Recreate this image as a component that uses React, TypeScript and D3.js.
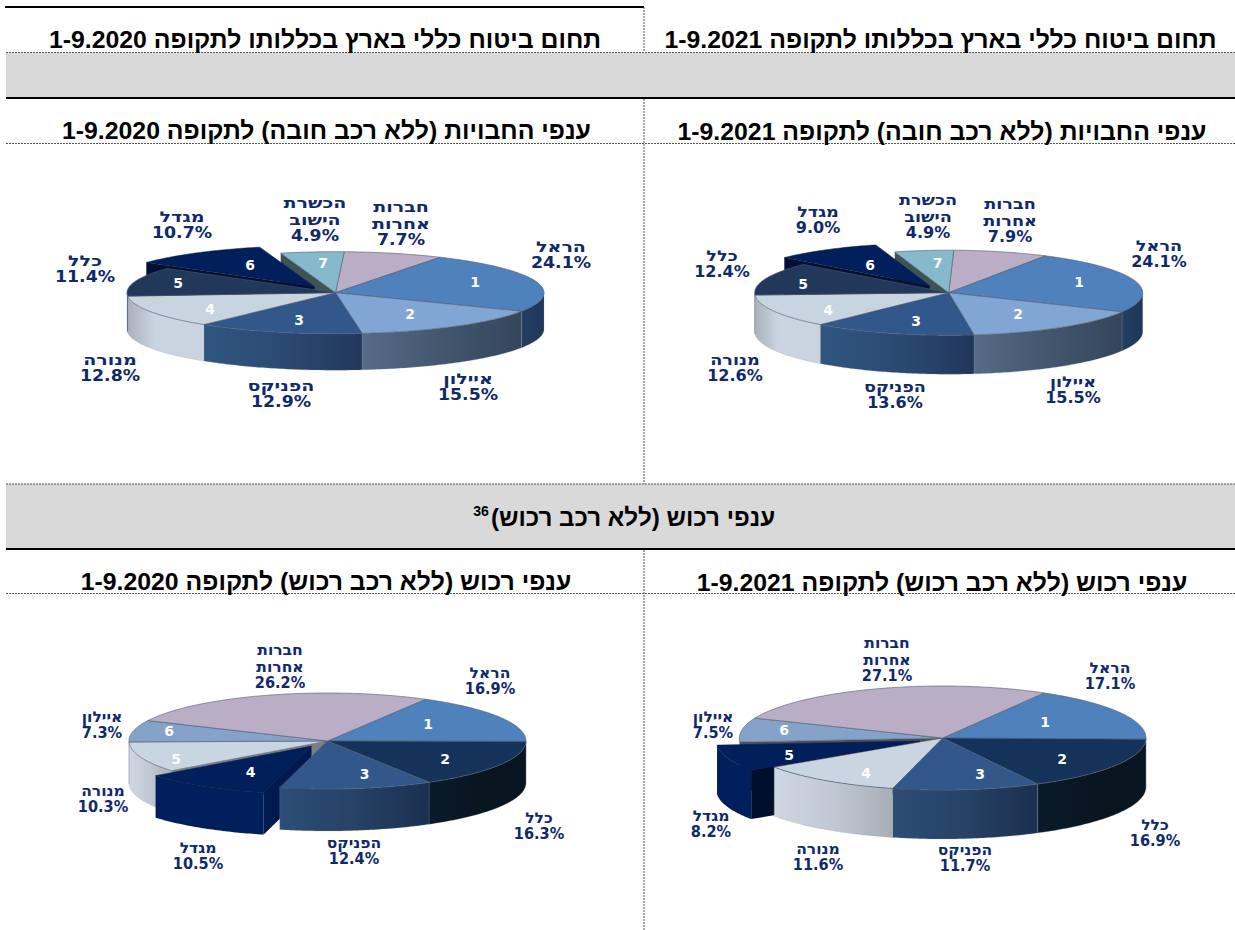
import React from "react";
import * as d3 from "d3";

// ---------- data ----------
const HAREL = "הראל", AYALON = "איילון", PHOENIX = "הפניקס", MENORA = "מנורה", CLAL = "כלל",
  MIGDAL = "מגדל", HACHSHARA = "הכשרת הישוב", OTHERS = "חברות אחרות";

const liabilityNames = [OTHERS, HAREL, AYALON, PHOENIX, MENORA, CLAL, MIGDAL, HACHSHARA];
const liability2020 = [7.7, 24.1, 15.5, 12.9, 12.8, 11.4, 10.7, 4.9];
const liability2021 = [7.9, 24.1, 15.5, 13.6, 12.6, 12.4, 9.0, 4.9];

const property2020Names = [HAREL, CLAL, PHOENIX, MIGDAL, MENORA, AYALON, OTHERS];
const property2020 = [16.9, 16.3, 12.4, 10.5, 10.3, 7.3, 26.2];
const property2021Names = [HAREL, CLAL, PHOENIX, MENORA, MIGDAL, AYALON, OTHERS];
const property2021 = [17.1, 16.9, 11.7, 11.6, 8.2, 7.5, 27.1];

// number printed on each slice ("" = none)
const liabilityNumbers = ["", "1", "2", "3", "4", "5", "6", "7"];
const propertyNumbers = ["1", "2", "3", "4", "5", "6", ""];

const headerTitles = ["תחום ביטוח כללי בארץ בכללותו לתקופה 1-9.2021", "תחום ביטוח כללי בארץ בכללותו לתקופה 1-9.2020"];
const liabilityTitles = ["ענפי החבויות (ללא רכב חובה) לתקופה 1-9.2021", "ענפי החבויות (ללא רכב חובה) לתקופה 1-9.2020"];
const propertyTitles = ["ענפי רכוש (ללא רכב רכוש) לתקופה 1-9.2021", "ענפי רכוש (ללא רכב רכוש) לתקופה 1-9.2020"];
const bandTitle = "ענפי רכוש (ללא רכב רכוש)";
const bandNote = "36";

// ---------- styles ----------
type Style = { top: string; wall: any[] };
const liabilityStyle: Record<string, Style> = {
  [OTHERS]: { top: "#b9aec5", wall: [[0, "#8a8096"]] },
  [HAREL]: { top: "#4f81bd", wall: [[0, "#243f63"], [1, "#1f3658"]] },
  [AYALON]: { top: "#82a6d4", wall: [[0, "#566b87"], [0.5, "#43566e"], [1, "#35465a"]] },
  [PHOENIX]: { top: "#32578a", wall: [[0, "#30567f"], [0.5, "#2b4a73"], [1, "#22375a"]] },
  [MENORA]: { top: "#c9d4e1", wall: [[0, "#a9b1bd"], [0.35, "#c9d4e0"], [1, "#c9d4e0"]] },
  [CLAL]: { top: "#22385b", wall: [[0, "#22385b"]] },
  [MIGDAL]: { top: "#001f5b", wall: [[0, "#001f5b"]] },
  [HACHSHARA]: { top: "#86b9cc", wall: [[0, "#3d5355"]] },
};
const propertyStyle: Record<string, Style> = {
  [OTHERS]: { top: "#b9aec5", wall: [[0, "#8a8096"]] },
  [HAREL]: { top: "#4f81bd", wall: [[0, "#243f63"]] },
  [CLAL]: { top: "#14325a", wall: [[0, "#0a1a2b"], [0.5, "#07161f"], [1, "#06151f"]] },
  [PHOENIX]: { top: "#32578a", wall: [[0, "#2c4d76"], [0.5, "#264265"], [1, "#1b3050"]] },
  [MENORA]: { top: "#cad5e2", wall: [[0, "#ced7e2"], [0.5, "#c0c8d3"], [1, "#a8aeb6"]] },
  [MIGDAL]: { top: "#001f5b", wall: [[0, "#001f5c"]] },
  [AYALON]: { top: "#85a3c9", wall: [[0, "#5f7591"]] },
};

const textNavy = "#10296b";

// ---------- layout ----------
type Chart = {
  names: string[]; values: number[]; numbers: string[]; style: Record<string, Style>;
  cx: number; cy: number; rx: number; ry: number; depth: number; start: number;
  exploded: string; off: [number, number]; radial: string; exposed: string;
  sx: number; hx: number; labels: [number, number][]; numPos: [number, number][];
};

const charts: Chart[] = [
  {
    names: liabilityNames, values: liability2021, numbers: liabilityNumbers, style: liabilityStyle,
    cx: 948.7, cy: 292.7, rx: 194, ry: 42.5, depth: 39, start: 1.5, exploded: MIGDAL, off: [-19, -7],
    radial: "#000f33", exposed: "#3d5355", sx: 1.07, hx: 1.1,
    labels: [[1010, 209], [1159, 251], [1073, 387], [895, 392], [735, 365], [722, 261], [818, 217], [928, 205]],
    numPos: [[0, 0], [1079, 282], [1018, 314], [916, 321], [828, 310], [803, 284], [870, 265], [937.5, 263]],
  },
  {
    names: liabilityNames, values: liability2020, numbers: liabilityNumbers, style: liabilityStyle,
    cx: 335.5, cy: 292.7, rx: 208.5, ry: 41, depth: 36.5, start: 2.4, exploded: MIGDAL, off: [-21, -6],
    radial: "#000f33", exposed: "#3d5355", sx: 1.155, hx: 1.1,
    labels: [[401, 212], [561, 252], [468, 384], [281, 391], [110, 365], [85, 266], [182, 222], [315, 208]],
    numPos: [[0, 0], [475, 282], [410, 314], [299, 320], [210, 309], [178, 283], [250, 265], [323, 263]],
  },
  {
    names: property2021Names, values: property2021, numbers: propertyNumbers, style: propertyStyle,
    cx: 942.7, cy: 738, rx: 203.3, ry: 52, depth: 49, start: 29.9, exploded: MIGDAL, off: [-23, 3],
    radial: "#000f2c", exposed: "#4a4f58", sx: 0.97, hx: 1.07,
    labels: [[1110, 673], [1155, 830], [965, 855], [818, 854], [711, 821], [713, 722], [887, 648]],
    numPos: [[1045, 722], [1062, 759], [980, 774], [866, 773], [789, 755], [784, 730], [0, 0]],
  },
  {
    names: property2020Names, values: property2020, numbers: propertyNumbers, style: propertyStyle,
    cx: 327.5, cy: 741, rx: 198.5, ry: 48, depth: 42, start: 29.6, exploded: MIGDAL, off: [-16, 5],
    radial: "#001a50", exposed: "#7a7f86", sx: 0.97, hx: 1.07,
    labels: [[490, 678], [539, 823], [354, 848], [198, 853], [103, 796], [102, 722], [280, 655]],
    numPos: [[428, 724], [445, 759], [364.5, 774], [250.6, 772], [176, 759], [169, 731], [0, 0]],
  },
];

const line = d3.line<[number, number]>().x((d) => d[0]).y((d) => d[1]);

function Pie({ chart, idx }: { chart: Chart; idx: number }) {
  const { cx, cy, rx, ry, depth, names, values, style, exploded, off } = chart;
  const s0 = (chart.start * Math.PI) / 180;
  const arcs = d3.pie<number>().sort(null).startAngle(s0).endAngle(s0 + 2 * Math.PI)(values);
  const pt = (a: number, dx = 0, dy = 0, z = 0, r = 1): [number, number] => [
    cx + dx + rx * r * Math.sin(a),
    cy + dy - ry * r * Math.cos(a) + z,
  ];
  const sweep = (a0: number, a1: number, dx = 0, dy = 0, z = 0) => {
    const n = Math.max(2, Math.ceil(Math.abs(a1 - a0) / 0.015));
    return d3.range(n + 1).map((i) => pt(a0 + ((a1 - a0) * i) / n, dx, dy, z));
  };
  const topPath = (a0: number, a1: number, dx = 0, dy = 0) =>
    line([pt(0, dx, dy, 0, 0), ...sweep(a0, a1, dx, dy)]) + "Z";
  const wallPath = (a0: number, a1: number, dx = 0, dy = 0) => {
    const lo = Math.max(a0, Math.PI / 2), hi = Math.min(a1, (3 * Math.PI) / 2);
    if (hi <= lo) return "";
    return line([...sweep(lo, hi, dx, dy), ...sweep(hi, lo, dx, dy, depth)]) + "Z";
  };
  const radialPath = (a: number, dx = 0, dy = 0) =>
    line([pt(0, dx, dy, 0, 0), pt(a, dx, dy), pt(a, dx, dy, depth), pt(0, dx, dy, depth, 0)]) + "Z";

  const ei = names.indexOf(exploded);
  const e = arcs[ei];
  const next = arcs[(ei + 1) % arcs.length];
  const wallFill = (i: number) => {
    const w = style[names[i]].wall;
    return w.length > 1 ? `url(#w${idx}-${i})` : w[0][1];
  };
  const edge = "#4d5b6e";
  return (
    <g>
      <defs>
        {names.map((n, i) =>
          style[n].wall.length > 1 ? (
            <linearGradient key={i} id={`w${idx}-${i}`} x1="0" x2="1" y1="0" y2="0">
              {style[n].wall.map((st, j) => (
                <stop key={j} offset={st[0]} stopColor={st[1]} />
              ))}
            </linearGradient>
          ) : null
        )}
      </defs>
      {/* faces uncovered by the pulled-out slice */}
      <path d={radialPath(next.startAngle) as string} fill={chart.exposed} />
      <path d={radialPath(e.startAngle, off[0], off[1]) as string} fill={chart.radial} />
      {/* regular slices */}
      {arcs.map((a, i) =>
        i === ei ? null : (
          <path key={"w" + i} d={wallPath(a.startAngle, a.endAngle)} fill={wallFill(i)} stroke="#8d97a3" strokeOpacity={0.5} strokeWidth={0.5} />
        )
      )}
      {arcs.map((a, i) =>
        i === ei ? null : (
          <path key={"t" + i} d={topPath(a.startAngle, a.endAngle)} fill={style[names[i]].top} stroke={edge} strokeWidth={0.6} strokeLinejoin="round" />
        )
      )}
      {/* pulled-out slice */}
      <path d={wallPath(e.startAngle, e.endAngle, off[0], off[1])} fill={wallFill(ei)} />
      <path d={topPath(e.startAngle, e.endAngle, off[0], off[1])} fill={style[exploded].top} stroke="#0b1c44" strokeWidth={0.5} />
      {/* slice numbers */}
      {arcs.map((a, i) =>
        chart.numbers[i] ? (
          <text key={"n" + i} x={chart.numPos[i][0]} y={chart.numPos[i][1] + 5} textAnchor="middle" fill="#fff" fontFamily="'DejaVu Sans'" fontWeight={700} fontSize={14}>
            {chart.numbers[i]}
          </text>
        ) : null
      )}
      {/* outer labels */}
      {names.map((n, i) => {
        const [lx, ly] = chart.labels[i];
        const parts = n.split(" ");
        return (
          <g key={"l" + i} transform={`translate(${lx},${ly}) scale(${chart.sx},1)`} fontFamily="'DejaVu Sans'" fontWeight={700} fontSize={15} fill={textNavy} textAnchor="middle">
            {parts.map((r, j) => (
              <text key={j} transform={`translate(0,${j * 16.5}) scale(${chart.hx},1)`}>{r}</text>
            ))}
            <text y={parts.length * 16.5}>{`${values[i].toFixed(1)}%`}</text>
          </g>
        );
      })}
    </g>
  );
}

function Title({ x, y, text, size = 24.8 }: { x: number; y: number; text: string; size?: number }) {
  return (
    <text x={x} y={y} direction="rtl" textAnchor="middle" fontFamily="'Liberation Sans'" fontWeight={700} fontSize={size} fill="#000">
      {text}
    </text>
  );
}

export default function App() {
  const dotted = { stroke: "#555", strokeWidth: 1, strokeDasharray: "2 1" };
  return (
    <svg width={1235} height={930} style={{ position: "absolute", left: 0, top: 0, display: "block", background: "#fff" }}>
      <rect x={6} y={52.5} width={1229} height={44.5} fill="#d9d9d9" />
      <rect x={6} y={484} width={1229} height={64} fill="#d9d9d9" />
      <rect x={5} y={6} width={639} height={2} fill="#000" />
      <rect x={6} y={97} width={1229} height={2} fill="#000" />
      <rect x={6} y={548} width={1229} height={2} fill="#000" />
      <line x1={6} x2={1235} y1={52.5} y2={52.5} {...dotted} />
      <line x1={6} x2={1235} y1={143.5} y2={143.5} {...dotted} />
      <line x1={6} x2={1235} y1={484} y2={484} {...dotted} />
      <line x1={6} x2={1235} y1={593.5} y2={593.5} {...dotted} />
      <line x1={644} x2={644} y1={7} y2={52} {...dotted} />
      <line x1={644} x2={644} y1={99} y2={484} {...dotted} />
      <line x1={644} x2={644} y1={550} y2={930} {...dotted} />

      <Title x={940.5} y={48} text={headerTitles[0]} />
      <Title x={325} y={48} text={headerTitles[1]} />
      <Title x={942} y={140} text={liabilityTitles[0]} />
      <Title x={326.5} y={139} text={liabilityTitles[1]} />
      <Title x={942} y={591} text={propertyTitles[0]} />
      <Title x={326} y={590} text={propertyTitles[1]} />
      <Title x={633} y={526} text={bandTitle} size={24.2} />
      <text x={481} y={516} textAnchor="middle" fontFamily="'Liberation Sans'" fontWeight={700} fontSize={14} fill="#000">{bandNote}</text>

      {charts.map((c, i) => (
        <Pie key={i} chart={c} idx={i} />
      ))}
    </svg>
  );
}
